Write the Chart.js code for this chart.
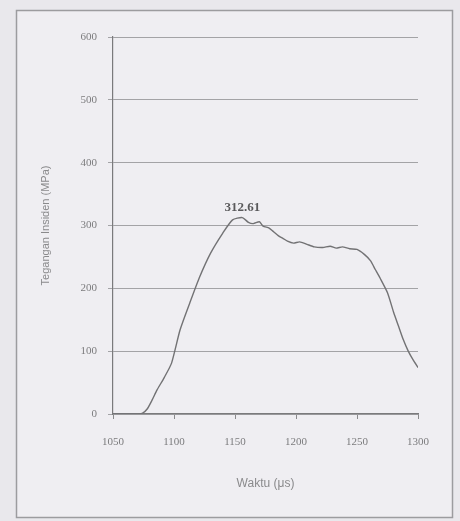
<!DOCTYPE html>
<html>
<head>
<meta charset="utf-8">
<script src="https://cdn.jsdelivr.net/npm/chart.js@4/dist/chart.umd.min.js"></script>
<style>
  html, body { margin: 0; padding: 0; background: #e9e8ec; }
  #wrap { width: 460px; height: 521px; position: relative; }
</style>
</head>
<body>
<div id="wrap"><canvas id="chartTegangan" width="460" height="521"></canvas></div>
<script>
// waktu (mikrodetik) dan tegangan insiden (MPa)
const waktu = [1050, 1060, 1070, 1074, 1078, 1082, 1086, 1092, 1098, 1105, 1113, 1121, 1130, 1140, 1148, 1156,
  1161, 1165, 1170, 1173, 1178, 1181, 1186, 1189, 1193, 1198, 1203, 1209, 1215, 1222, 1228, 1233, 1238,
  1244, 1250, 1256, 1261, 1265, 1269, 1275, 1280, 1284, 1288, 1292, 1296, 1300];
const tegangan = [0, 0, 0, 1, 8, 22, 38, 58, 81, 134, 177, 218, 256, 288, 309, 312.61,
  305, 303, 306, 299, 296, 291, 283, 280, 275, 272, 274, 270, 266, 265, 267, 264, 266,
  263, 262, 254, 244, 230, 216, 193, 162, 140, 118, 100, 86, 74];
const xTicks = [1050, 1100, 1150, 1200, 1250, 1300];
const yTicks = [0, 100, 200, 300, 400, 500, 600];
const labelPuncak = '312.61';

const titikData = waktu.map((t, i) => ({ x: t, y: tegangan[i] }));
const idxPuncak = tegangan.indexOf(Math.max(...tegangan));

const serif = '"Liberation Serif", "DejaVu Serif", serif';
const sans = '"Liberation Sans", "DejaVu Sans", sans-serif';

// latar kertas + bingkai luar
const bingkai = {
  id: 'bingkai',
  beforeDraw(chart) {
    const c = chart.ctx;
    c.save();
    c.fillStyle = '#e9e8ec';
    c.fillRect(0, 0, chart.width, chart.height);
    c.fillStyle = '#efeef2';
    c.fillRect(16, 10, 436, 507);
    c.strokeStyle = '#9c9c9f';
    c.lineWidth = 1.5;
    c.strokeRect(16.5, 10.5, 436, 507);
    c.restore();
  }
};

// label nilai puncak
const labelNilai = {
  id: 'labelNilai',
  afterDatasetsDraw(chart) {
    const c = chart.ctx;
    const px = chart.scales.x.getPixelForValue(waktu[idxPuncak]);
    const py = chart.scales.y.getPixelForValue(tegangan[idxPuncak]);
    c.save();
    c.font = 'bold 13px ' + serif;
    c.fillStyle = '#5a5a5c';
    c.textAlign = 'center';
    c.textBaseline = 'bottom';
    c.fillText(labelPuncak, px, py - 3);
    c.restore();
  }
};

new Chart(document.getElementById('chartTegangan').getContext('2d'), {
  type: 'scatter',
  data: {
    datasets: [{
      data: titikData,
      showLine: true,
      borderColor: '#727274',
      borderWidth: 1.4,
      pointRadius: 0,
      tension: 0.2,
      fill: false
    }]
  },
  options: {
    responsive: false,
    animation: false,
    layout: { padding: { left: 35, top: 37, right: 42, bottom: 26 } },
    plugins: { legend: { display: false }, tooltip: { enabled: false } },
    scales: {
      x: {
        type: 'linear',
        min: 1050, max: 1300,
        afterBuildTicks: s => { s.ticks = xTicks.map(v => ({ value: v })); },
        afterFit: s => { s.height = 81; },
        grid: { drawOnChartArea: false, drawTicks: true, tickLength: 5, color: '#8a8a8c' },
        border: { color: '#7a7a7c', width: 1.2 },
        ticks: { color: '#7c7c7e', font: { family: serif, size: 11 }, padding: 17, callback: v => String(v) },
        title: { display: true, text: 'Waktu (μs)', color: '#8a8a8c', font: { family: sans, size: 12 }, padding: { top: 12 } }
      },
      y: {
        min: 0, max: 600,
        afterBuildTicks: s => { s.ticks = yTicks.map(v => ({ value: v })); },
        afterFit: s => { s.width = 78; },
        grid: { color: '#a3a3a6', lineWidth: 1, tickLength: 5 },
        border: { color: '#7a7a7c', width: 1.2 },
        ticks: { color: '#7c7c7e', font: { family: serif, size: 11 }, padding: 11, callback: v => String(v) },
        title: { display: true, text: 'Tegangan Insiden (MPa)', color: '#8a8a8c', font: { family: sans, size: 11 }, padding: { bottom: 0 } }
      }
    }
  },
  plugins: [bingkai, labelNilai]
});
</script>
</body>
</html>
